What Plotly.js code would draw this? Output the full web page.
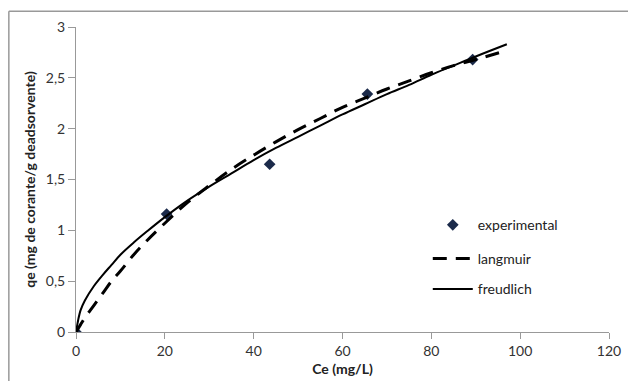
<!DOCTYPE html>
<html>
<head>
<meta charset="utf-8">
<script src="https://cdn.plot.ly/plotly-3.0.1.min.js"></script>
<style>html,body{margin:0;padding:0;background:#fff;}#chart{width:628px;height:381px;}</style>
</head>
<body>
<div id="chart"></div>
<script>
// Experimental points
const expCe = [0, 20.4, 43.6, 65.6, 89.3];
const expQe = [0, 1.16, 1.65, 2.34, 2.68];

// Model curves
const modelCe = [0, 1, 2, 4, 6, 8, 10, 13, 16, 20, 25, 30, 35, 40, 45, 50, 55, 60, 65, 70, 75, 80, 85, 90, 97];
const langmuirQe = [0, 0.07, 0.14, 0.26, 0.38, 0.50, 0.60, 0.76, 0.90, 1.07, 1.27, 1.44, 1.60, 1.74, 1.87, 1.99, 2.10, 2.21, 2.30, 2.39, 2.47, 2.55, 2.62, 2.68, 2.77];
const freundlichQe = [0, 0.21, 0.31, 0.45, 0.56, 0.66, 0.76, 0.88, 0.99, 1.13, 1.29, 1.43, 1.56, 1.69, 1.81, 1.92, 2.03, 2.14, 2.24, 2.34, 2.43, 2.53, 2.62, 2.71, 2.83];

const xTicks = [0, 20, 40, 60, 80, 100, 120];
const yTicks = [0, 0.5, 1, 1.5, 2, 2.5, 3];
const yTickText = ['0', '0,5', '1', '1,5', '2', '2,5', '3'];

const font = 'Lato, "Open Sans", sans-serif';

const traces = [
  {x: expCe, y: expQe, mode: 'markers', name: 'experimental', legend: 'legend',
   marker: {symbol: 'diamond', size: 9, color: '#1b2a4a'}},
  {x: modelCe, y: langmuirQe, mode: 'lines', name: 'langmuir', legend: 'legend2',
   line: {color: '#000', width: 3, dash: '14px,9px', shape: 'spline'}},
  {x: modelCe, y: freundlichQe, mode: 'lines', name: 'freudlich', legend: 'legend3',
   line: {color: '#000', width: 2, shape: 'spline'}}
];

const legBase = {xanchor: 'left', yanchor: 'middle', bgcolor: 'rgba(0,0,0,0)',
  font: {family: font, size: 14, color: '#222'}, itemwidth: 40};

const layout = {
  width: 628, height: 381,
  margin: {l: 76, r: 19, t: 27, b: 49},
  paper_bgcolor: '#fff', plot_bgcolor: '#fff',
  showlegend: true,
  legend: Object.assign({}, legBase, {x: 0.66, y: 0.35}),
  legend2: Object.assign({}, legBase, {x: 0.66, y: 0.24}),
  legend3: Object.assign({}, legBase, {x: 0.66, y: 0.14}),
  xaxis: {
    range: [0, 120], tickvals: xTicks, ticktext: xTicks.map(String),
    showgrid: false, zeroline: false, showline: true, linecolor: '#999', linewidth: 1,
    ticks: 'outside', ticklen: 6, tickcolor: '#999',
    tickfont: {family: font, size: 14, color: '#333'},
    title: {text: '<b>Ce (mg/L)</b>', font: {family: font, size: 14, color: '#222'}, standoff: 6}
  },
  yaxis: {
    range: [0, 3], tickvals: yTicks, ticktext: yTickText,
    showgrid: false, zeroline: false, showline: true, linecolor: '#999', linewidth: 1,
    ticks: 'outside', ticklen: 7, tickcolor: '#999',
    tickfont: {family: font, size: 14, color: '#333'},
    title: {text: '<b>qe (mg de corante/g deadsorvente)</b>', font: {family: font, size: 14, color: '#222'}, standoff: 6}
  },
  shapes: [
    {type: 'line', xref: 'paper', yref: 'paper', x0: -0.126, x1: 1.1, y0: 1.052, y1: 1.052, line: {color: '#999', width: 1.5}},
    {type: 'line', xref: 'paper', yref: 'paper', x0: -0.126, x1: -0.126, y0: 1.052, y1: -0.2, line: {color: '#999', width: 1.5}}
  ]
};

Plotly.newPlot('chart', traces, layout, {displayModeBar: false, staticPlot: true});
</script>
</body>
</html>
